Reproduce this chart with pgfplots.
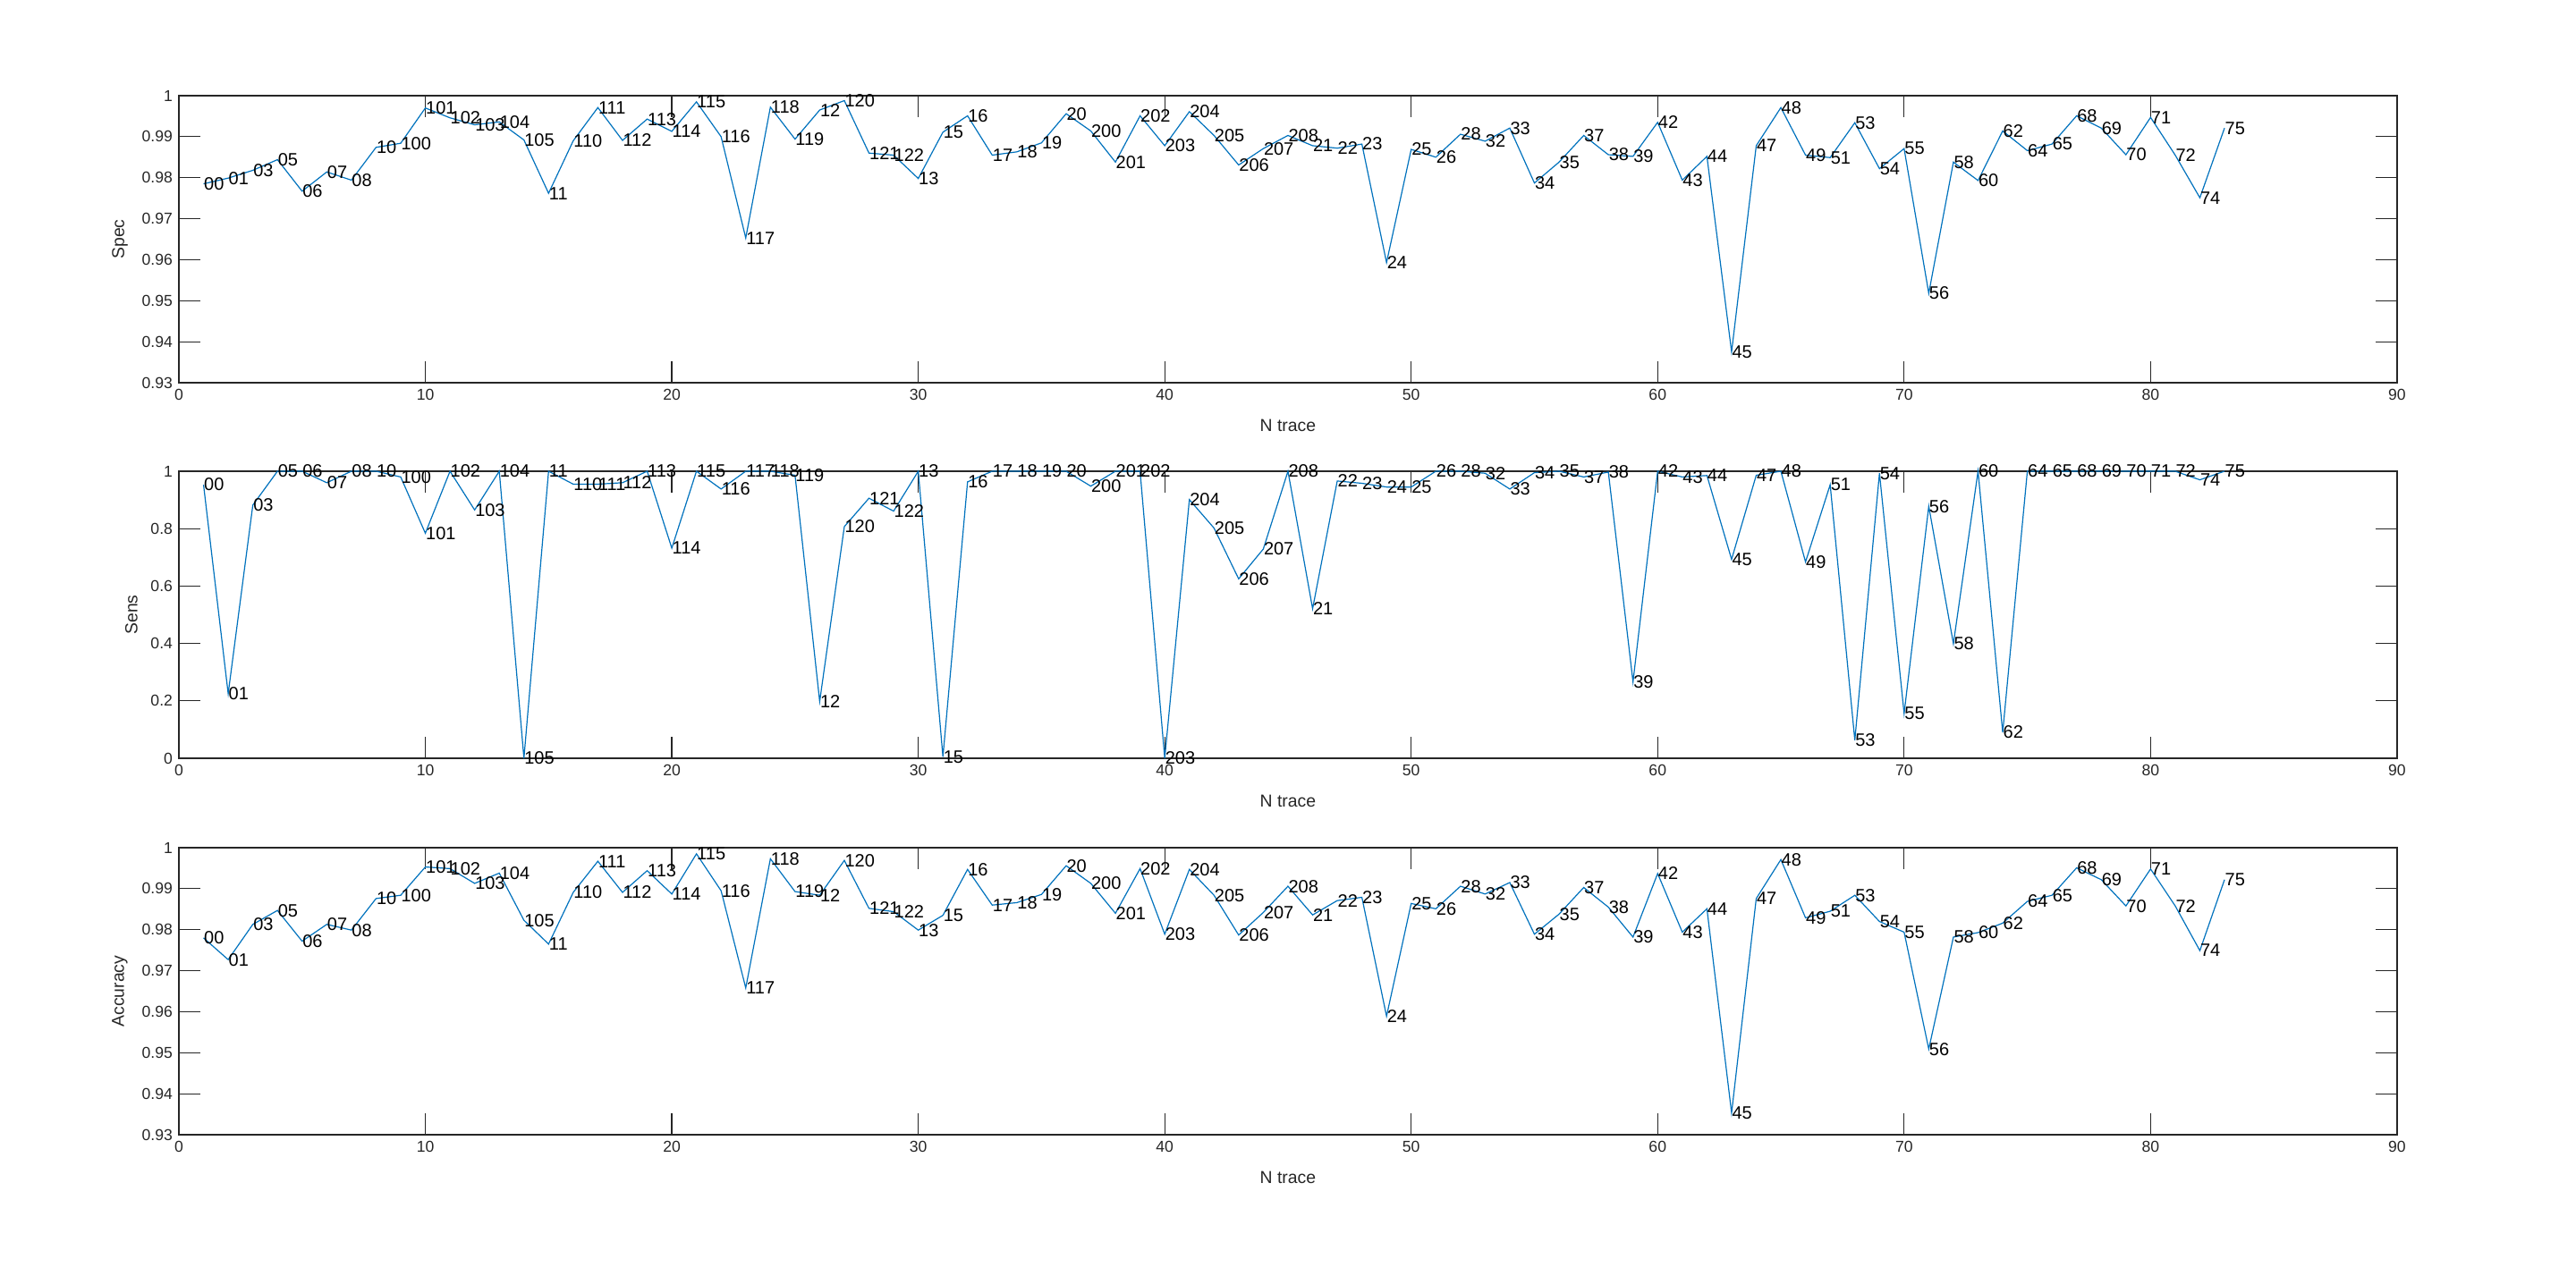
\documentclass[border=0pt]{standalone}
\usepackage{fontspec}
\setmainfont{Liberation Sans}
\usepackage{pgfplots}
\pgfplotsset{compat=1.18}

\definecolor{mlblue}{rgb}{0,0.447,0.741}
\definecolor{axgray}{rgb}{0.15,0.15,0.15}

\pgfplotsset{
  trace/.style={
    scale only axis, width=1240pt, height=160.5pt,
    xmin=0, xmax=90, xtick={0,10,...,90},
    axis line style={draw=axgray, line width=0.6pt},
    tick style={draw=axgray, line width=0.6pt},
    tick align=inside, tick pos=both, major tick length=12pt,
    ticklabel style={font=\fontsize{8.8}{10}\selectfont, text=axgray},
    /pgf/number format/assume math mode=true,
    /pgf/number format/fixed,
    scaled y ticks=false,
    xlabel={N trace},
    label style={font=\fontsize{9.7}{11}\selectfont, text=axgray},
    xlabel style={at={(axis description cs:0.5,-0.15)}, anchor=center},
    clip=false,
    nodes near coords, point meta=explicit symbolic,
    nodes near coords style={anchor=west, inner sep=0pt,
      font=\fontsize{10}{11}\selectfont, text=black},
  },
  trc/.style={draw=mlblue, line width=0.6pt, mark=none},
}

\begin{document}
\begin{tikzpicture}
\path[use as bounding box] (0,0) rectangle (1440pt,713pt);

% Spec
\begin{axis}[trace, at={(100pt,499pt)},
  ymin=0.93, ymax=1, ytick={0.93,0.94,0.95,0.96,0.97,0.98,0.99,1},
  ylabel={Spec},
  ylabel style={at={(axis description cs:-0.0266,0.5)}, anchor=center}]
\addplot[trc] coordinates {
(1,0.9785)[00] (2,0.9799)[01] (3,0.9818)[03] (4,0.9844)[05] (5,0.9767)[06]
(6,0.9814)[07] (7,0.9794)[08] (8,0.9874)[10] (9,0.9884)[100] (10,0.9970)[101]
(11,0.9946)[102] (12,0.9929)[103] (13,0.9936)[104] (14,0.9892)[105] (15,0.9762)[11]
(16,0.9890)[110] (17,0.9971)[111] (18,0.9891)[112] (19,0.9943)[113] (20,0.9913)[114]
(21,0.9985)[115] (22,0.9900)[116] (23,0.9653)[117] (24,0.9972)[118] (25,0.9894)[119]
(26,0.9965)[12] (27,0.9988)[120] (28,0.9860)[121] (29,0.9855)[122] (30,0.9798)[13]
(31,0.9911)[15] (32,0.9951)[16] (33,0.9855)[17] (34,0.9863)[18] (35,0.9885)[19]
(36,0.9956)[20] (37,0.9914)[200] (38,0.9838)[201] (39,0.9951)[202] (40,0.9878)[203]
(41,0.9961)[204] (42,0.9903)[205] (43,0.9831)[206] (44,0.9871)[207] (45,0.9903)[208]
(46,0.9878)[21] (47,0.9872)[22] (48,0.9882)[23] (49,0.9593)[24] (50,0.9869)[25]
(51,0.9850)[26] (52,0.9906)[28] (53,0.9889)[32] (54,0.9921)[33] (55,0.9787)[34]
(56,0.9838)[35] (57,0.9903)[37] (58,0.9856)[38] (59,0.9852)[39] (60,0.9935)[42]
(61,0.9794)[43] (62,0.9852)[44] (63,0.9375)[45] (64,0.9878)[47] (65,0.9971)[48]
(66,0.9855)[49] (67,0.9849)[51] (68,0.9934)[53] (69,0.9822)[54] (70,0.9871)[55]
(71,0.9518)[56] (72,0.9838)[58] (73,0.9793)[60] (74,0.9914)[62] (75,0.9866)[64]
(76,0.9882)[65] (77,0.9951)[68] (78,0.9921)[69] (79,0.9856)[70] (80,0.9947)[71]
(81,0.9855)[72] (82,0.9751)[74] (83,0.9921)[75]
};
\end{axis}

% Sens
\begin{axis}[trace, at={(100pt,289pt)},
  ymin=0, ymax=1, ytick={0,0.2,0.4,0.6,0.8,1},
  ylabel={Sens},
  ylabel style={at={(axis description cs:-0.0214,0.5)}, anchor=center}]
\addplot[trc] coordinates {
(1,0.953)[00] (2,0.225)[01] (3,0.882)[03] (4,1.0)[05] (5,1.0)[06]
(6,0.960)[07] (7,1.0)[08] (8,1.0)[10] (9,0.980)[100] (10,0.784)[101]
(11,1.0)[102] (12,0.865)[103] (13,1.0)[104] (14,0.0)[105] (15,1.0)[11]
(16,0.955)[110] (17,0.955)[111] (18,0.960)[112] (19,1.0)[113] (20,0.732)[114]
(21,1.0)[115] (22,0.938)[116] (23,1.0)[117] (24,1.0)[118] (25,0.986)[119]
(26,0.198)[12] (27,0.807)[120] (28,0.906)[121] (29,0.861)[122] (30,1.0)[13]
(31,0.005)[15] (32,0.963)[16] (33,1.0)[17] (34,1.0)[18] (35,1.0)[19]
(36,1.0)[20] (37,0.948)[200] (38,1.0)[201] (39,1.0)[202] (40,0.0)[203]
(41,0.901)[204] (42,0.802)[205] (43,0.625)[206] (44,0.729)[207] (45,1.0)[208]
(46,0.521)[21] (47,0.966)[22] (48,0.958)[23] (49,0.945)[24] (50,0.945)[25]
(51,1.0)[26] (52,1.0)[28] (53,0.993)[32] (54,0.938)[33] (55,0.995)[34]
(56,1.0)[35] (57,0.980)[37] (58,0.997)[38] (59,0.266)[39] (60,1.0)[42]
(61,0.980)[43] (62,0.985)[44] (63,0.693)[45] (64,0.986)[47] (65,1.0)[48]
(66,0.684)[49] (67,0.953)[51] (68,0.063)[53] (69,0.993)[54] (70,0.156)[55]
(71,0.878)[56] (72,0.399)[58] (73,1.0)[60] (74,0.090)[62] (75,1.0)[64]
(76,1.0)[65] (77,1.0)[68] (78,1.0)[69] (79,1.0)[70] (80,1.0)[71]
(81,1.0)[72] (82,0.970)[74] (83,1.0)[75]
};
\end{axis}

% Accuracy
\begin{axis}[trace, at={(100pt,78.5pt)},
  ymin=0.93, ymax=1, ytick={0.93,0.94,0.95,0.96,0.97,0.98,0.99,1},
  ylabel={Accuracy},
  ylabel style={at={(axis description cs:-0.0266,0.5)}, anchor=center}]
\addplot[trc] coordinates {
(1,0.9780)[00] (2,0.9727)[01] (3,0.9813)[03] (4,0.9847)[05] (5,0.9772)[06]
(6,0.9813)[07] (7,0.9799)[08] (8,0.9876)[10] (9,0.9884)[100] (10,0.9953)[101]
(11,0.9949)[102] (12,0.9913)[103] (13,0.9938)[104] (14,0.9823)[105] (15,0.9765)[11]
(16,0.9891)[110] (17,0.9967)[111] (18,0.9891)[112] (19,0.9944)[113] (20,0.9887)[114]
(21,0.9985)[115] (22,0.9895)[116] (23,0.9658)[117] (24,0.9973)[118] (25,0.9893)[119]
(26,0.9884)[12] (27,0.9969)[120] (28,0.9852)[121] (29,0.9844)[122] (30,0.9799)[13]
(31,0.9835)[15] (32,0.9947)[16] (33,0.9860)[17] (34,0.9866)[18] (35,0.9886)[19]
(36,0.9956)[20] (37,0.9913)[200] (38,0.9840)[201] (39,0.9949)[202] (40,0.9789)[203]
(41,0.9947)[204] (42,0.9884)[205] (43,0.9787)[206] (44,0.9842)[207] (45,0.9906)[208]
(46,0.9836)[21] (47,0.9871)[22] (48,0.9879)[23] (49,0.9589)[24] (50,0.9864)[25]
(51,0.9851)[26] (52,0.9906)[28] (53,0.9887)[32] (54,0.9915)[33] (55,0.9789)[34]
(56,0.9838)[35] (57,0.9903)[37] (58,0.9855)[38] (59,0.9782)[39] (60,0.9937)[42]
(61,0.9794)[43] (62,0.9851)[44] (63,0.9353)[45] (64,0.9876)[47] (65,0.9971)[48]
(66,0.9829)[49] (67,0.9845)[51] (68,0.9884)[53] (69,0.9820)[54] (70,0.9794)[55]
(71,0.9509)[56] (72,0.9782)[58] (73,0.9793)[60] (74,0.9816)[62] (75,0.9869)[64]
(76,0.9884)[65] (77,0.9951)[68] (78,0.9922)[69] (79,0.9858)[70] (80,0.9948)[71]
(81,0.9858)[72] (82,0.9749)[74] (83,0.9922)[75]
};
\end{axis}
\end{tikzpicture}
\end{document}
